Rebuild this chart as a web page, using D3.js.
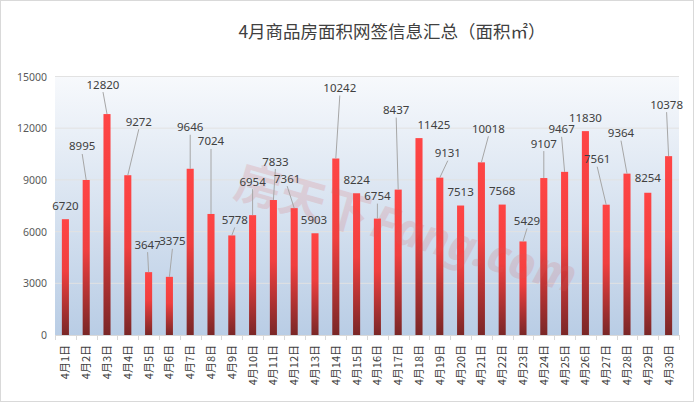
<!DOCTYPE html>
<html><head><meta charset="utf-8">
<script src="https://cdn.jsdelivr.net/npm/d3@7"></script>
<style>html,body{margin:0;padding:0;background:#fff;}svg{display:block;}</style>
</head><body>
<script>
const categories = d3.range(1, 31).map(d => `4月${d}日`);
const values = [6720, 8995, 12820, 9272, 3647, 3375, 9646, 7024, 5778, 6954,
                7833, 7361, 5903, 10242, 8224, 6754, 8437, 11425, 9131, 7513,
                10018, 7568, 5429, 9107, 9467, 11830, 7561, 9364, 8254, 10378];
const yTicks = [0, 3000, 6000, 9000, 12000, 15000];
const title = "4月商品房面积网签信息汇总（面积㎡）";
// label placement (px offset of label centre from bar top centre)
const labelOffsets = [[0,-14],[-4,-34],[-4,-30],[11,-54],[-1,-28],[3,-36],[0,-42],[0,-73],[3,-16],[0,-34],
  [2,-39],[-7,-30],[-1,-14],[4,-71],[0,-14],[0,-23],[-2,-80],[15,-14],[8,-25],[0,-14],
  [7,-34],[0,-14],[4,-21],[0,-35],[-3,-43],[0,-14],[-9,-46],[-6,-41],[0,-15],[-2,-52]];

const W = 696, H = 403;
const m = {left: 55, right: 17, top: 76.5, bottom: 68};
const svg = d3.select("body").append("svg").attr("width", W).attr("height", H);
const defs = svg.append("defs");
const bg = defs.append("linearGradient").attr("id","bg").attr("x1",0).attr("y1",0).attr("x2",0).attr("y2",1);
bg.append("stop").attr("offset","0%").attr("stop-color","#f7f9fc");
bg.append("stop").attr("offset","100%").attr("stop-color","#b9cde5");
const bar = defs.append("linearGradient").attr("id","bar").attr("x1",0).attr("y1",0).attr("x2",0).attr("y2",1);
bar.append("stop").attr("offset","0%").attr("stop-color","#ff4545");
bar.append("stop").attr("offset","45%").attr("stop-color","#f03f3f");
bar.append("stop").attr("offset","100%").attr("stop-color","#7a2727");

svg.append("rect").attr("x",0.5).attr("y",0.5).attr("width",W-3).attr("height",H-2)
  .attr("fill","#fff").attr("stroke","#d9d9d9");

const x = d3.scaleBand().domain(categories).range([m.left, W - m.right]).paddingInner(0.66).paddingOuter(0.33);
const y = d3.scaleLinear().domain([0, 15000]).range([H - m.bottom, m.top]);

svg.append("rect").attr("x", m.left).attr("y", m.top).attr("width", W - m.right - m.left)
  .attr("height", H - m.bottom - m.top).attr("fill","url(#bg)");

// gridlines
svg.append("g").selectAll("line").data(yTicks.slice(1)).join("line")
  .attr("x1", m.left).attr("x2", W - m.right).attr("y1", d => y(d)).attr("y2", d => y(d))
  .attr("stroke","#e2e2e2").attr("stroke-width",1);

// y labels
svg.append("g").selectAll("text").data(yTicks).join("text")
  .attr("x", 47).attr("y", d => y(d) + 4).attr("text-anchor","end")
  .attr("font-family","Noto Sans, sans-serif").attr("font-size","10.5px").attr("fill","#595959")
  .text(d => d);

// bars
svg.append("g").selectAll("rect").data(values).join("rect")
  .attr("x", (d,i) => x(categories[i])).attr("width", x.bandwidth())
  .attr("y", d => y(d)).attr("height", d => y(0) - y(d)).attr("fill","url(#bar)");

// watermark (over the bars, faint)
svg.append("text").attr("transform","translate(232,196) rotate(16)")
  .attr("font-family","Noto Sans CJK SC, sans-serif").attr("font-size","46px").attr("font-weight","bold")
  .attr("fill","#d85a5a").attr("opacity",0.17)
  .text("房天下").append("tspan").attr("font-family","Noto Sans, sans-serif").attr("font-style","italic")
  .attr("font-size","46px").attr("dx",4).text("Fang.com");

// x axis
const xAxis = svg.append("g");
xAxis.append("line").attr("x1", m.left).attr("x2", W - m.right).attr("y1", y(0)+0.5).attr("y2", y(0)+0.5)
  .attr("stroke","#d9d9d9");
const step = x.step();
xAxis.selectAll("line.t").data(d3.range(categories.length + 1)).join("line").attr("class","t")
  .attr("x1", i => Math.round(x(categories[0]) - x.paddingOuter()*step + i*step) + 0.5)
  .attr("x2", i => Math.round(x(categories[0]) - x.paddingOuter()*step + i*step) + 0.5)
  .attr("y1", y(0)).attr("y2", y(0) + 5).attr("stroke","#d9d9d9");
xAxis.selectAll("text").data(categories).join("text")
  .attr("transform", d => `translate(${x(d) + x.bandwidth()/2 + 4},${y(0) + 10}) rotate(-90)`)
  .attr("text-anchor","end")
  .attr("font-family","Noto Sans CJK SC, sans-serif").attr("font-size","11px").attr("fill","#404040")
  .text(d => d);

// labels + leader lines
const cx = i => x(categories[i]) + x.bandwidth()/2;
const lg = svg.append("g");
values.forEach((v, i) => {
  const [dx, dy] = labelOffsets[i];
  const lx = cx(i) + dx, ly = y(v) + dy;
  if (dy < -15.5) {
    lg.append("line").attr("x1", lx).attr("y1", ly + 8).attr("x2", cx(i)).attr("y2", y(v))
      .attr("stroke","#a6a6a6").attr("stroke-width",1);
  }
  lg.append("text").attr("x", lx).attr("y", ly + 4.5).attr("text-anchor","middle")
    .attr("font-family","Noto Sans, sans-serif").attr("font-size","11.5px").attr("fill","#404040")
    .text(v);
});

svg.append("text").attr("x", 392).attr("y", 38).attr("text-anchor","middle")
  .attr("font-family","Noto Sans CJK SC, sans-serif").attr("font-size","17.5px").attr("fill","#404040")
  .text(title);
</script>
</body></html>
